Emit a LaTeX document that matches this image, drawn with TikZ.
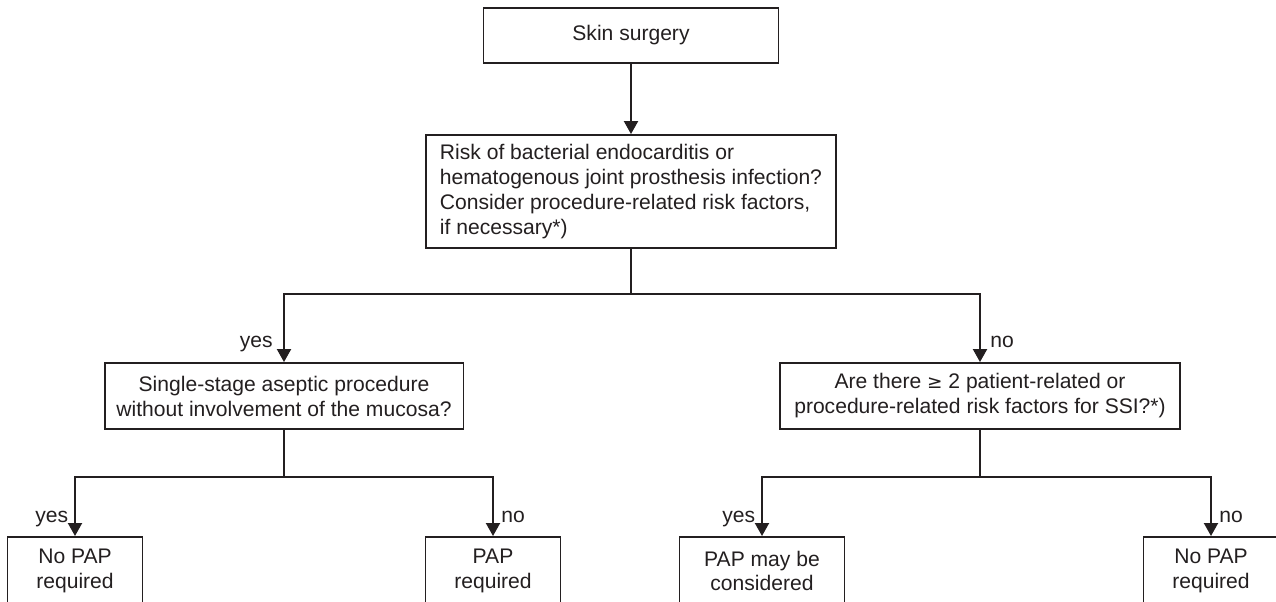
\documentclass[tikz,border=0pt]{standalone}
\usepackage{fontspec}
\setmainfont{Liberation Sans}
\usetikzlibrary{arrows.meta,positioning}
\definecolor{flowink}{RGB}{35,31,32}

\begin{document}
\begin{tikzpicture}[x=0.02cm,y=-0.02cm,
  box/.style={draw=flowink, line width=1.1pt, text=flowink, font=\fontsize{12}{14.2}\selectfont, align=center, inner sep=0pt},
  arr/.style={draw=flowink, line width=1.1pt, -{Triangle[length=7.4pt,width=8pt]}},
  link/.style={draw=flowink, line width=1.1pt},
  lbl/.style={text=flowink, font=\fontsize{12}{14.2}\selectfont, inner sep=0pt}]
\useasboundingbox (0,0) rectangle (1276,602);
\clip (0,0) rectangle (1276,602);
% Question boxes
\node[box, minimum width=5.9cm, minimum height=1.1cm] (surgery) at (631,35.5) {Skin surgery};
\node[box, align=left, inner xsep=0.26cm, minimum width=8.22cm, minimum height=2.26cm] (risk) at (631,191.5)
  {Risk of bacterial endocarditis or\\hematogenous joint prosthesis infection?\\Consider procedure-related risk factors,\\if necessary*)};
\node[box, minimum width=7.18cm, minimum height=1.32cm] (single) at (284,396)
  {Single-stage aseptic procedure\\without involvement of the mucosa?};
\node[box, minimum width=8.0cm, minimum height=1.32cm] (factors) at (980,396)
  {Are there {\fontspec{DejaVu Sans}\fontsize{10.5}{14.2}\selectfont≥} 2 patient-related or\\procedure-related risk factors for SSI?*)};
% Outcome boxes (cut by the lower edge)
\node[box, anchor=north, minimum width=2.7cm, minimum height=1.36cm] (nopapA) at (75,536) {No PAP\\required};
\node[box, anchor=north, minimum width=2.7cm, minimum height=1.36cm] (papreq) at (493,536) {PAP\\required};
\node[box, anchor=north, minimum width=3.3cm, minimum height=1.36cm] (papmay) at (762,536) {PAP may be\\considered};
\node[box, anchor=north, minimum width=2.7cm, minimum height=1.36cm] (nopapB) at (1211,536) {No PAP\\required};
% Connectors
\coordinate (splitTop) at (631,294);
\coordinate (splitL) at (284,477);
\coordinate (splitR) at (980,477);
\draw[arr] (surgery) -- (risk);
\draw[link] (risk) -- (splitTop);
\draw[arr] (splitTop) -| (single);
\draw[arr] (splitTop) -| (factors);
\draw[link] (single) -- (splitL);
\draw[arr] (splitL) -| (nopapA);
\draw[arr] (splitL) -| (papreq);
\draw[link] (factors) -- (splitR);
\draw[arr] (splitR) -| (papmay);
\draw[arr] (splitR) -| (nopapB);
% yes / no labels
\node[lbl, anchor=base east] (yesTop) at ([xshift=-0.22cm,yshift=0.3cm]single.north) {yes};
\node[lbl, anchor=base west] (noTop) at ([xshift=0.2cm,yshift=0.3cm]factors.north) {no};
\node[lbl, anchor=base east] (yesA) at ([xshift=-0.13cm,yshift=0.28cm]nopapA.north) {yes};
\node[lbl, anchor=base west] (noA) at ([xshift=0.16cm,yshift=0.28cm]papreq.north) {no};
\node[lbl, anchor=base east] (yesB) at ([xshift=-0.13cm,yshift=0.28cm]papmay.north) {yes};
\node[lbl, anchor=base west] (noB) at ([xshift=0.16cm,yshift=0.28cm]nopapB.north) {no};
\end{tikzpicture}
\end{document}
